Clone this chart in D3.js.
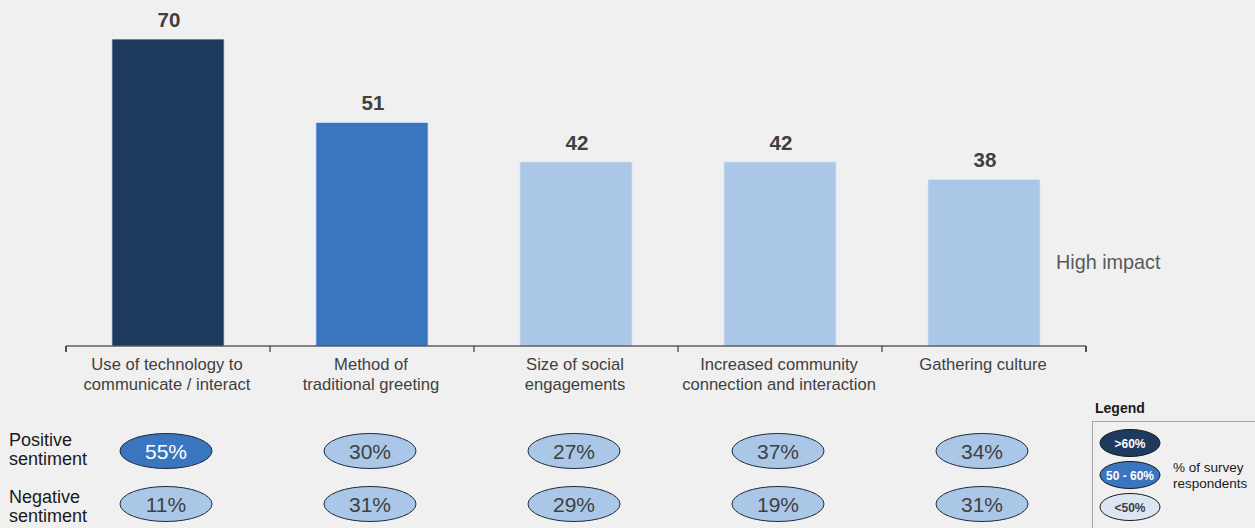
<!DOCTYPE html>
<html>
<head>
<meta charset="utf-8">
<script src="https://cdn.jsdelivr.net/npm/d3@7"></script>
<style>
  html, body { margin: 0; padding: 0; background: #f0f0f0; }
  svg { display: block; font-family: "Liberation Sans", Arial, sans-serif; }
</style>
</head>
<body>
<svg id="chart" width="1255" height="528"></svg>
<script>
// Impact areas and survey scores
const categories = [
  ["Use of technology to", "communicate / interact"],
  ["Method of", "traditional greeting"],
  ["Size of social", "engagements"],
  ["Increased community", "connection and interaction"],
  ["Gathering culture"]
];
const impactScores = [70, 51, 42, 42, 38];
const positiveSentiment = [55, 30, 27, 37, 34];
const negativeSentiment = [11, 31, 29, 19, 31];
const legendLabels = [">60%", "50 - 60%", "<50%"];

const colorDark = "#1e3a5f", colorMid = "#3a75c0", colorLight = "#aac7e8", colorPale = "#dce6f2";
function tierColor(v) { return v > 60 ? colorDark : v >= 50 ? colorMid : colorLight; }

const svg = d3.select("#chart");
const W = 1255, H = 528;
svg.append("rect").attr("width", W).attr("height", H).attr("fill", "#f0f0f0");

const x = d3.scaleBand().domain(d3.range(categories.length)).range([66, 1086]).paddingInner(0).paddingOuter(0);
const y = d3.scaleLinear().domain([0, 70]).range([346, 39]);
const barW = x.bandwidth() * 0.55;

// Bars
svg.selectAll("rect.bar").data(impactScores).enter().append("rect")
  .attr("class", "bar")
  .attr("x", (d, i) => x(i) + (x.bandwidth() - barW) / 2)
  .attr("y", d => y(d))
  .attr("width", barW)
  .attr("height", d => y(0) - y(d))
  .attr("fill", d => tierColor(d))
  .attr("stroke", "#e4ecf6").attr("stroke-width", 0.8);

// Value labels
svg.selectAll("text.val").data(impactScores).enter().append("text")
  .attr("x", (d, i) => x(i) + x.bandwidth() / 2 + 1)
  .attr("y", d => y(d) - 12)
  .attr("text-anchor", "middle")
  .attr("font-size", 20.5).attr("font-weight", "bold").attr("fill", "#404040")
  .text(d => d);

// Category axis
const axis = d3.axisBottom(x).tickSize(6).tickFormat("");
const gAxis = svg.append("g").attr("transform", "translate(0,346)").call(axis);
gAxis.select(".domain").attr("stroke", "#1a1a1a").attr("d", "M66,6V0H1086V6");
gAxis.selectAll(".tick").remove();
const tickPos = d3.range(categories.length + 1).map(i => i < categories.length ? x(i) : x(categories.length - 1) + x.bandwidth());
gAxis.selectAll("line.tk").data(tickPos).enter().append("line")
  .attr("x1", d => d).attr("x2", d => d).attr("y1", 0).attr("y2", 6)
  .attr("stroke", "#1a1a1a");

svg.selectAll("text.cat").data(categories).enter().append("text")
  .attr("class", "cat")
  .attr("text-anchor", "middle")
  .attr("font-size", 16.6).attr("fill", "#404040")
  .each(function(lines, i) {
    const t = d3.select(this);
    lines.forEach((ln, j) => {
      t.append("tspan").attr("x", x(i) + x.bandwidth() / 2 - 1).attr("y", 370 + j * 20).text(ln);
    });
  });

// High impact annotation
svg.append("text").attr("x", 1056).attr("y", 269)
  .attr("font-size", 19.8).attr("fill", "#595959").text("High impact");

// Sentiment rows
const rows = [
  { label: ["Positive", "sentiment"], values: positiveSentiment, cy: 451, ly: 446 },
  { label: ["Negative", "sentiment"], values: negativeSentiment, cy: 504, ly: 503 }
];
rows.forEach(r => {
  const lt = svg.append("text").attr("font-size", 18).attr("fill", "#1a1a1a");
  r.label.forEach((ln, j) => lt.append("tspan").attr("x", 9).attr("y", r.ly + j * 19).text(ln));
  const g = svg.append("g");
  g.selectAll("ellipse").data(r.values).enter().append("ellipse")
    .attr("cx", (d, i) => x(i) + x.bandwidth() / 2 - 2)
    .attr("cy", r.cy).attr("rx", 46).attr("ry", 17.5)
    .attr("fill", d => tierColor(d))
    .attr("stroke", "#1f2a3a").attr("stroke-width", 1);
  g.selectAll("text").data(r.values).enter().append("text")
    .attr("x", (d, i) => x(i) + x.bandwidth() / 2 - 2)
    .attr("y", r.cy + 7.5)
    .attr("text-anchor", "middle").attr("font-size", 21)
    .attr("fill", d => d >= 50 ? "#ffffff" : "#404040")
    .text(d => d + "%");
});

// Legend
svg.append("text").attr("x", 1095).attr("y", 413)
  .attr("font-size", 14).attr("font-weight", "bold").attr("fill", "#1a1a1a").text("Legend");
svg.append("rect").attr("x", 1092.5).attr("y", 421.5).attr("width", 170).attr("height", 120)
  .attr("fill", "none").attr("stroke", "#a6a6a6").attr("stroke-width", 1);
const legendFill = [colorDark, colorMid, colorPale];
const legendText = ["#ffffff", "#ffffff", "#404040"];
legendLabels.forEach((lab, i) => {
  const cy = 443 + i * 32;
  svg.append("ellipse").attr("cx", 1130).attr("cy", cy).attr("rx", 30).attr("ry", 13.5)
    .attr("fill", legendFill[i]).attr("stroke", "#1a1a1a").attr("stroke-width", 1);
  svg.append("text").attr("x", 1130).attr("y", cy + 4.5).attr("text-anchor", "middle")
    .attr("font-size", 12).attr("font-weight", "bold").attr("fill", legendText[i]).text(lab);
});
const lg = svg.append("text").attr("font-size", 13.5).attr("fill", "#1a1a1a");
lg.append("tspan").attr("x", 1173).attr("y", 472).text("% of survey");
lg.append("tspan").attr("x", 1173).attr("y", 488).text("respondents");
</script>
</body>
</html>
